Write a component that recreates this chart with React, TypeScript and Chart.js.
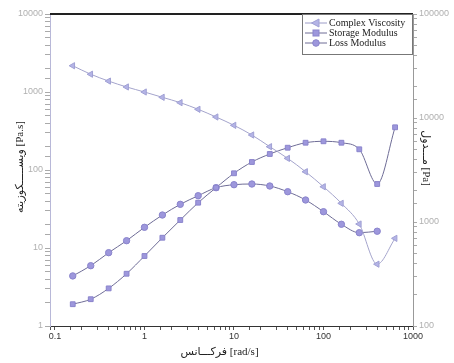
import React, { useEffect, useRef } from 'react';
import { Chart, registerables } from 'chart.js';

Chart.register(...registerables);

// Angular frequency (rad/s)
const frequency = [0.158, 0.251, 0.398, 0.631, 1, 1.585, 2.512, 3.981, 6.31, 10, 15.85, 25.12, 39.81, 63.1, 100, 158.5, 251.2, 398.1, 631];
// Complex viscosity (Pa.s) - left axis
const complexViscosity = [2170, 1690, 1380, 1160, 1000, 855, 730, 600, 478, 374, 281, 199, 141, 95, 61, 37.4, 20.3, 6.2, 13.3];
// Storage modulus (Pa) - right axis
const storageModulus = [162, 181, 230, 318, 471, 706, 1045, 1534, 2138, 2940, 3775, 4508, 5180, 5785, 5970, 5785, 5000, 2319, 8140];
// Loss modulus (Pa) - right axis
const lossModulus = [303, 380, 507, 661, 889, 1167, 1479, 1790, 2138, 2284, 2319, 2219, 1955, 1628, 1256, 951, 789, 815];

const xTickLabels = [0.1, 1, 10, 100, 1000];
const leftTickLabels = [1, 10, 100, 1000, 10000];
const rightTickLabels = [100, 1000, 10000, 100000];

const seriesNames = ['Complex Viscosity', 'Storage Modulus', 'Loss Modulus'];
const xTitle = 'فرکـــانس [rad/s]';
const leftTitle = 'ویســـــکوزیته [Pa.s]';
const rightTitle = 'مـــدول [Pa]';

const near = (v: number, list: number[]) => list.some((t) => Math.abs(v - t) / t < 1e-6);

const triColor = '#b4b4e6';
const markColor = '#9d97dc';

function drawMarker(ctx: CanvasRenderingContext2D, kind: string, x: number, y: number) {
  ctx.save();
  if (kind === 'tri') {
    ctx.fillStyle = triColor;
    ctx.strokeStyle = '#a0a0d4';
    ctx.beginPath();
    ctx.moveTo(x - 4.5, y);
    ctx.lineTo(x + 3, y - 4);
    ctx.lineTo(x + 3, y + 4);
    ctx.closePath();
    ctx.fill();
    ctx.stroke();
  } else if (kind === 'sq') {
    ctx.fillStyle = markColor;
    ctx.strokeStyle = '#8a84cc';
    ctx.fillRect(x - 3, y - 3, 6, 6);
    ctx.strokeRect(x - 3, y - 3, 6, 6);
  } else {
    ctx.fillStyle = markColor;
    ctx.strokeStyle = '#8a84cc';
    ctx.beginPath();
    ctx.arc(x, y, 3.3, 0, Math.PI * 2);
    ctx.fill();
    ctx.stroke();
  }
  ctx.restore();
}

const decorPlugin = {
  id: 'decor',
  afterDraw(chart: any) {
    const { ctx, chartArea } = chart;
    const { left, right, top, bottom } = chartArea;
    ctx.save();
    // top frame line
    ctx.strokeStyle = '#222';
    ctx.lineWidth = 2;
    ctx.beginPath();
    ctx.moveTo(left, top);
    ctx.lineTo(right, top);
    ctx.stroke();

    // legend
    const lx = 302;
    const ly = top;
    const lw = right - lx;
    const lh = 40;
    ctx.fillStyle = '#fff';
    ctx.fillRect(lx, ly + 1, lw, lh - 1);
    ctx.strokeStyle = '#777';
    ctx.lineWidth = 1;
    ctx.strokeRect(lx + 0.5, ly + 0.5, lw - 1, lh);
    const kinds = ['tri', 'sq', 'circ'];
    const lineCols = ['#9c9cc8', '#6e6c96', '#6e6c96'];
    ctx.font = '10px "Liberation Serif"';
    ctx.textBaseline = 'middle';
    ctx.textAlign = 'left';
    for (let i = 0; i < 3; i++) {
      const yy = ly + 9 + i * 10;
      ctx.strokeStyle = lineCols[i];
      ctx.lineWidth = 1;
      ctx.beginPath();
      ctx.moveTo(lx + 3, yy);
      ctx.lineTo(lx + 25, yy);
      ctx.stroke();
      drawMarker(ctx, kinds[i], lx + 14, yy);
      ctx.fillStyle = '#222';
      ctx.fillText(seriesNames[i], lx + 27, yy + 0.5);
    }

    // axis titles
    ctx.fillStyle = '#222';
    ctx.textAlign = 'center';
    ctx.textBaseline = 'middle';
    ctx.font = '11px "Liberation Serif", "DejaVu Sans"';
    ctx.fillText(xTitle, (left + right) / 2 - 12, bottom + 26);

    ctx.save();
    ctx.translate(20, (top + bottom) / 2 - 3);
    ctx.rotate(-Math.PI / 2);
    ctx.fillText(leftTitle, 0, 0);
    ctx.restore();

    ctx.save();
    ctx.translate(426, (top + bottom) / 2 - 12);
    ctx.rotate(Math.PI / 2);
    ctx.fillText(rightTitle, 0, 0);
    ctx.restore();

    ctx.restore();
  },
};

export default function App() {
  const ref = useRef<HTMLCanvasElement | null>(null);

  useEffect(() => {
    if (!ref.current) return;
    const chart = new Chart(ref.current, {
      type: 'line',
      data: {
        datasets: [
          {
            label: seriesNames[0],
            data: frequency.map((f, i) => ({ x: f, y: complexViscosity[i] })),
            yAxisID: 'y',
            borderColor: '#a4a4cc',
            borderWidth: 1,
            backgroundColor: triColor,
            pointBackgroundColor: triColor,
            pointBorderColor: '#a0a0d4',
            pointStyle: 'triangle',
            pointRotation: -90,
            pointRadius: 3.6,
            cubicInterpolationMode: 'monotone',
          },
          {
            label: seriesNames[1],
            data: frequency.map((f, i) => ({ x: f, y: storageModulus[i] })),
            yAxisID: 'y1',
            borderColor: '#6e6c96',
            borderWidth: 1,
            backgroundColor: markColor,
            pointBackgroundColor: markColor,
            pointBorderColor: '#8a84cc',
            pointStyle: 'rect',
            pointRadius: 3.4,
            cubicInterpolationMode: 'monotone',
          },
          {
            label: seriesNames[2],
            data: lossModulus.map((v, i) => ({ x: frequency[i], y: v })),
            yAxisID: 'y1',
            borderColor: '#6e6c96',
            borderWidth: 1,
            backgroundColor: markColor,
            pointBackgroundColor: markColor,
            pointBorderColor: '#8a84cc',
            pointStyle: 'circle',
            pointRadius: 3.2,
            cubicInterpolationMode: 'monotone',
          },
        ],
      },
      options: {
        animation: false,
        responsive: false,
        maintainAspectRatio: false,
        layout: { padding: { top: 14, left: 0, right: 0, bottom: 0 } },
        plugins: { legend: { display: false }, tooltip: { enabled: false } },
        scales: {
          x: {
            type: 'logarithmic',
            min: 0.088,
            max: 1000,
            afterFit: (s: any) => { s.height = 37; },
            border: { display: true, color: '#333', width: 1 },
            grid: { display: true, drawOnChartArea: false, drawTicks: true, tickLength: 4, color: '#555' },
            ticks: {
              autoSkip: false,
              maxRotation: 0,
              padding: 1,
              color: '#333',
              font: { family: '"Liberation Sans"', size: 9 },
              callback: (v: any) => (near(Number(v), xTickLabels) ? String(Number(v)) : ''),
            },
          },
          y: {
            type: 'logarithmic',
            position: 'left',
            min: 1,
            max: 10000,
            afterFit: (s: any) => { s.width = 50; },
            border: { display: true, color: '#b8b8d8', width: 1 },
            grid: { display: true, drawOnChartArea: false, drawTicks: true, tickLength: 5, color: '#aaa' },
            ticks: {
              autoSkip: false,
              padding: 2,
              color: '#b0b0b0',
              font: { family: '"Liberation Sans"', size: 9 },
              callback: (v: any) => (near(Number(v), leftTickLabels) ? String(Number(v)) : ''),
            },
          },
          y1: {
            type: 'logarithmic',
            position: 'right',
            min: 100,
            max: 100000,
            afterFit: (s: any) => { s.width = 41; },
            border: { display: true, color: '#999', width: 1 },
            grid: { display: true, drawOnChartArea: false, drawTicks: true, tickLength: 4, color: '#aaa' },
            ticks: {
              autoSkip: false,
              padding: 2,
              color: '#b0b0b0',
              font: { family: '"Liberation Sans"', size: 9 },
              callback: (v: any) => (near(Number(v), rightTickLabels) ? String(Number(v)) : ''),
            },
          },
        },
      },
      plugins: [decorPlugin],
    } as any);
    return () => chart.destroy();
  }, []);

  return (
    <div style={{ position: 'fixed', left: 0, top: 0, width: 454, height: 363, background: '#fff' }}>
      <canvas ref={ref} width={454} height={363} style={{ width: 454, height: 363 }} />
    </div>
  );
}
